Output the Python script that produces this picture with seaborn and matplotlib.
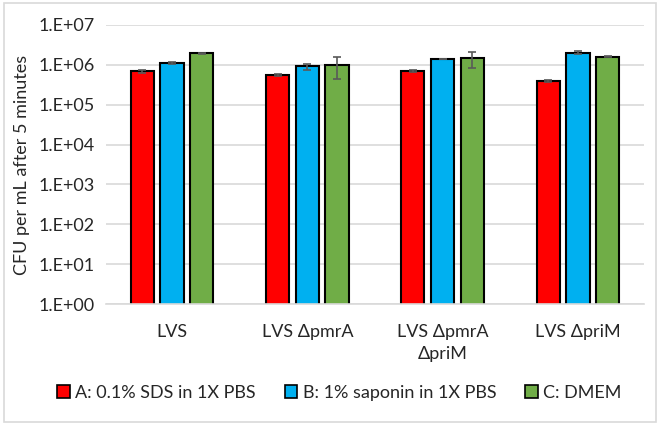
import numpy as np
import pandas as pd
import matplotlib.pyplot as plt
import seaborn as sns
from matplotlib.patches import Patch, Rectangle

# data (CFU/mL), with error bar half-widths
strains = ["LVS", "LVS \u0394pmrA", "LVS \u0394pmrA\n\u0394priM", "LVS \u0394priM"]
treatments = ["A: 0.1% SDS in 1X PBS", "B: 1% saponin in 1X PBS", "C: DMEM"]
sds_vals = [7.0e5, 5.6e5, 7.0e5, 4.0e5]
sds_err = [0.6e5, 0.2e5, 0.3e5, 0.2e5]
sap_vals = [1.12e6, 9.1e5, 1.41e6, 2.03e6]
sap_err = [0.05e6, 1.5e5, 0.02e6, 0.2e6]
dmem_vals = [1.93e6, 1.0e6, 1.49e6, 1.61e6]
dmem_err = [0.05e6, 5.6e5, 6.5e5, 0.05e6]
colors = ["#FF0000", "#00B0F0", "#70AD47"]

df = pd.DataFrame({
    "strain": strains * 3,
    "treatment": [t for t in treatments for _ in strains],
    "cfu": sds_vals + sap_vals + dmem_vals,
})
errs = [sds_err, sap_err, dmem_err]

sns.set_style("white")
plt.rcParams["font.family"] = ["Lato", "DejaVu Sans"]
fs = 13

fig = plt.figure(figsize=(6.59, 4.23), dpi=100)
ax = fig.add_axes([0.161, 0.281, 0.816, 0.66])

sns.barplot(data=df, x="strain", y="cfu", hue="treatment", palette=colors,
            saturation=1, width=0.66, gap=0.22, errorbar=None,
            edgecolor="black", linewidth=1.5, ax=ax, zorder=2)
ax.set_yscale("log")
ax.set_ylim(1, 1e7)

for cont, err in zip(ax.containers, errs):
    xs = [b.get_x() + b.get_width() / 2 for b in cont]
    hs = [b.get_height() for b in cont]
    ax.errorbar(xs, hs, yerr=err, fmt="none", ecolor="#595959",
                elinewidth=1.2, capsize=3, capthick=1.2, zorder=3)

ticks = [10.0 ** k for k in range(8)]
ax.set_yticks(ticks)
ax.set_yticklabels(["1.E+%02d" % k for k in range(8)], fontsize=fs)
ax.minorticks_off()
ax.yaxis.grid(True, color="#d9d9d9", linewidth=1.2, zorder=0)
ax.set_axisbelow(True)
for s in ["top", "right", "left"]:
    ax.spines[s].set_visible(False)
ax.spines["bottom"].set_color("#d9d9d9")
ax.spines["bottom"].set_linewidth(1.2)
ax.tick_params(axis="both", length=0, pad=8)
ax.tick_params(axis="x", labelsize=fs, pad=14)
for lbl in ax.get_xticklabels():
    lbl.set_linespacing(1.5)
ax.set_xlabel("")
ax.set_ylabel("CFU per mL after 5 minutes", fontsize=fs, labelpad=6)

ax.get_legend().remove()
handles = [Patch(facecolor=c, edgecolor="black", linewidth=1.2) for c in colors]
fig.legend(handles, treatments, loc="center", bbox_to_anchor=(0.515, 0.071),
           ncol=3, frameon=False, fontsize=fs, handlelength=0.7,
           handleheight=0.7, handletextpad=0.3, columnspacing=1.6)

fig.patches.append(Rectangle((0.006, 0.002), 0.99, 0.99, transform=fig.transFigure,
                             fill=False, edgecolor="#d9d9d9", linewidth=1.2))

fig.savefig("out.png", dpi=100)
